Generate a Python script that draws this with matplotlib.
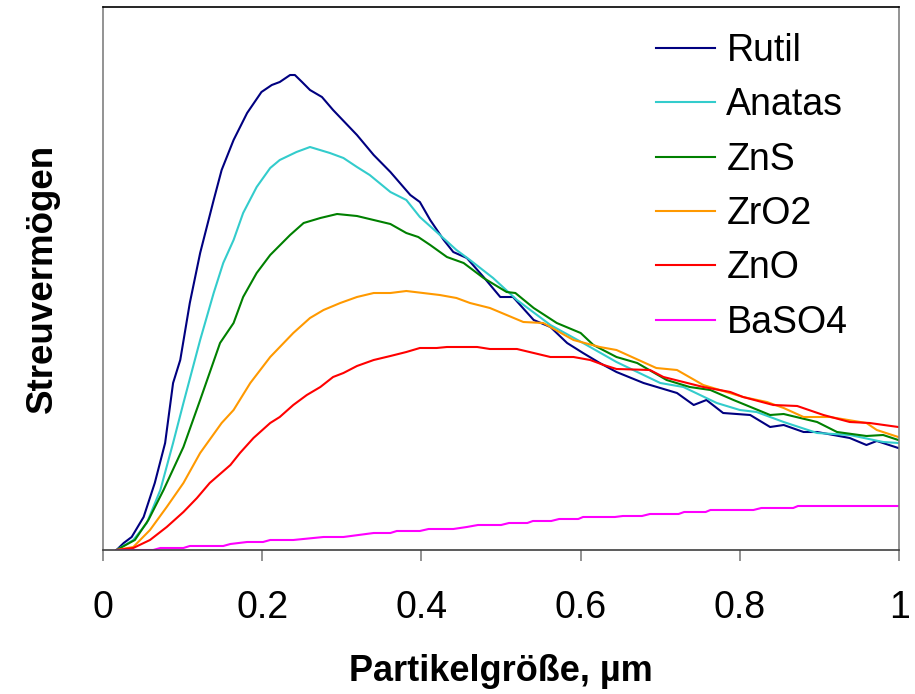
import matplotlib.pyplot as plt

plt.rcParams['font.family'] = ['Liberation Sans', 'DejaVu Sans']

# Streuvermögen (relative units) vs. particle size in µm
rutil_x = [0.017, 0.026, 0.036, 0.051, 0.065, 0.078, 0.088, 0.097, 0.109, 0.122,
           0.139, 0.149, 0.164, 0.181, 0.199, 0.212, 0.222, 0.235, 0.241, 0.250,
           0.260, 0.275, 0.289, 0.319, 0.340, 0.361, 0.386, 0.398, 0.411, 0.428,
           0.440, 0.457, 0.478, 0.499, 0.515, 0.541, 0.562, 0.583, 0.603, 0.624,
           0.645, 0.679, 0.700, 0.721, 0.742, 0.758, 0.779, 0.813, 0.838, 0.855,
           0.880, 0.897, 0.938, 0.959, 0.972, 0.999]
rutil_y = [0, 7, 13, 33, 67, 107, 167, 190, 247, 297,
           350, 380, 410, 437, 458, 465, 468, 475, 475, 468,
           460, 453, 440, 415, 395, 378, 355, 348, 330, 310,
           298, 292, 273, 253, 253, 230, 223, 207, 197, 187,
           178, 167, 162, 157, 145, 150, 137, 135, 123, 125,
           118, 118, 112, 105, 109, 102]

anatas_x = [0.017, 0.038, 0.055, 0.072, 0.088, 0.101, 0.122, 0.139, 0.151, 0.164,
            0.176, 0.193, 0.210, 0.222, 0.243, 0.260, 0.285, 0.302, 0.319, 0.335,
            0.361, 0.381, 0.398, 0.419, 0.444, 0.461, 0.490, 0.520, 0.562, 0.603,
            0.645, 0.700, 0.729, 0.771, 0.800, 0.821, 0.855, 0.897, 0.938, 0.980,
            0.999]
anatas_y = [0, 10, 27, 60, 107, 147, 210, 257, 287, 310,
            337, 363, 382, 390, 398, 403, 397, 392, 383, 375,
            358, 350, 333, 318, 300, 290, 272, 250, 225, 207,
            188, 167, 163, 147, 140, 138, 128, 117, 115, 108,
            107]

zns_x = [0.017, 0.040, 0.057, 0.076, 0.101, 0.122, 0.147, 0.164, 0.176, 0.193,
         0.210, 0.235, 0.252, 0.273, 0.294, 0.319, 0.340, 0.361, 0.381, 0.396,
         0.411, 0.432, 0.453, 0.478, 0.507, 0.518, 0.541, 0.570, 0.600, 0.616,
         0.645, 0.671, 0.708, 0.737, 0.763, 0.792, 0.838, 0.855, 0.897, 0.922,
         0.959, 0.980, 0.999]
zns_y = [0, 10, 30, 60, 103, 150, 207, 227, 253, 277,
         295, 315, 327, 332, 336, 334, 330, 326, 317, 313,
         305, 293, 287, 272, 258, 257, 242, 227, 217, 205,
         193, 187, 170, 163, 160, 150, 135, 136, 128, 118,
         114, 115, 110]

zro2_x = [0.017, 0.038, 0.059, 0.080, 0.101, 0.122, 0.149, 0.164, 0.185, 0.210,
          0.239, 0.260, 0.277, 0.298, 0.319, 0.340, 0.361, 0.381, 0.402, 0.423,
          0.444, 0.461, 0.486, 0.528, 0.553, 0.591, 0.624, 0.645, 0.695, 0.721,
          0.754, 0.804, 0.834, 0.855, 0.880, 0.913, 0.959, 0.972, 0.999]
zro2_y = [0, 3, 20, 43, 67, 97, 127, 140, 167, 193,
          217, 232, 240, 247, 253, 257, 257, 259, 257, 255,
          252, 247, 242, 228, 227, 210, 203, 200, 182, 180,
          165, 153, 148, 142, 133, 133, 127, 120, 113]

zno_x = [0.017, 0.038, 0.059, 0.080, 0.101, 0.118, 0.134, 0.160, 0.172, 0.189,
         0.210, 0.222, 0.239, 0.256, 0.273, 0.289, 0.302, 0.319, 0.340, 0.361,
         0.381, 0.398, 0.419, 0.432, 0.470, 0.486, 0.520, 0.562, 0.591, 0.612,
         0.629, 0.645, 0.687, 0.704, 0.729, 0.754, 0.788, 0.804, 0.842, 0.872,
         0.905, 0.938, 0.963, 0.999]
zno_y = [0, 2, 10, 23, 38, 52, 67, 85, 97, 112,
         127, 133, 145, 155, 163, 173, 177, 184, 190, 194,
         198, 202, 202, 203, 203, 201, 201, 193, 193, 190,
         185, 181, 180, 173, 168, 163, 158, 153, 145, 144,
         135, 128, 127, 123]

baso4_x = [0.017, 0.063, 0.072, 0.101, 0.109, 0.151, 0.160, 0.181, 0.201, 0.210,
           0.239, 0.277, 0.302, 0.340, 0.361, 0.369, 0.398, 0.409, 0.440, 0.457,
           0.471, 0.500, 0.510, 0.533, 0.540, 0.563, 0.573, 0.597, 0.603, 0.643,
           0.653, 0.677, 0.687, 0.723, 0.730, 0.757, 0.763, 0.817, 0.827, 0.867,
           0.873, 0.999]
baso4_y = [0, 0, 2, 2, 4, 4, 6, 8, 8, 10,
           10, 13, 13, 17, 17, 19, 19, 21, 21, 23,
           25, 25, 27, 27, 29, 29, 31, 31, 33, 33,
           34, 34, 36, 36, 38, 38, 40, 40, 42, 42,
           44, 44]

series = [
    ('Rutil', rutil_x, rutil_y, '#000080'),
    ('Anatas', anatas_x, anatas_y, '#33CCCC'),
    ('ZnS', zns_x, zns_y, '#008000'),
    ('ZrO2', zro2_x, zro2_y, '#FF9900'),
    ('ZnO', zno_x, zno_y, '#FF0000'),
    ('BaSO4', baso4_x, baso4_y, '#FF00FF'),
]

fig = plt.figure(figsize=(9.15, 6.94), dpi=100)
ax = fig.add_axes([0.1126, 0.2075, 0.87, 0.7824])

for name, xs, ys, col in series:
    ax.plot(xs, ys, color=col, lw=1.5, label=name)

ax.set_xlim(0, 1)
ax.set_ylim(0, 543)
ax.set_xticks([0, 0.2, 0.4, 0.6, 0.8, 1.0])
ax.set_xticklabels(['0', '0.2', '0.4', '0.6', '0.8', '1'])
ax.set_yticks([])
ax.tick_params(axis='x', direction='out', length=8, width=1.2, color='#808080',
               labelsize=27, pad=21)

ax.spines['top'].set_color('black')
ax.spines['bottom'].set_color('#404040')
ax.spines['left'].set_color('#808080')
ax.spines['right'].set_color('#808080')
for s in ax.spines.values():
    s.set_linewidth(1.2)

ax.set_xlabel('Partikelgröße, µm', fontsize=26, fontweight='bold', labelpad=20)
ax.set_ylabel('Streuvermögen', fontsize=26.5, fontweight='bold', labelpad=31)

ax.legend(loc='upper right', bbox_to_anchor=(0.9775, 1.0145), frameon=False,
          fontsize=27, handlelength=1.57, handletextpad=0.3, labelspacing=0.49)

fig.savefig('out.png', dpi=100)
